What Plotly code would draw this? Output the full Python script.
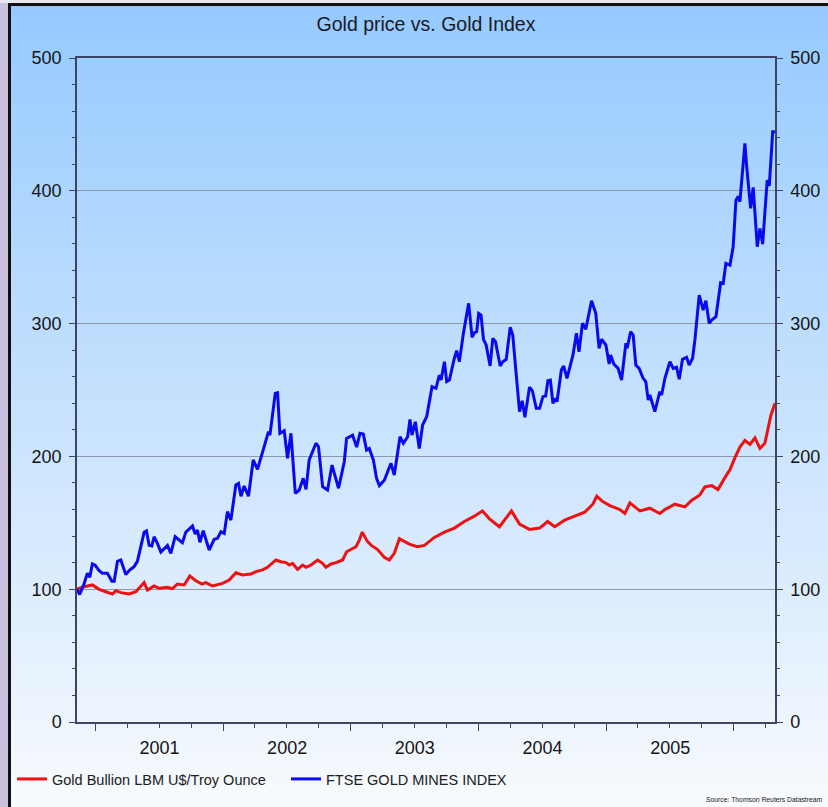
import plotly.graph_objects as go
import pandas as pd
import zlib
import struct
import base64

# ---------------- data ----------------
# time is given in decimal years
ftse_t = [2000.853, 2000.874, 2000.908, 2000.934, 2000.953, 2000.973, 2000.995, 2001.026, 2001.052, 2001.091,
          2001.126, 2001.144, 2001.170, 2001.196, 2001.235, 2001.261, 2001.300, 2001.326, 2001.379, 2001.397,
          2001.418, 2001.439, 2001.457, 2001.483, 2001.510, 2001.562, 2001.588, 2001.622, 2001.679, 2001.706,
          2001.758, 2001.779, 2001.797, 2001.816, 2001.842, 2001.889, 2001.928, 2001.954, 2001.981, 2002.007,
          2002.032, 2002.059, 2002.098, 2002.119, 2002.138, 2002.163, 2002.197, 2002.234, 2002.268, 2002.320,
          2002.354, 2002.365, 2002.407, 2002.425, 2002.443, 2002.477, 2002.503, 2002.530, 2002.564, 2002.595,
          2002.626, 2002.648, 2002.673, 2002.726, 2002.746, 2002.778, 2002.817, 2002.852, 2002.903, 2002.948,
          2002.966, 2003.013, 2003.045, 2003.071, 2003.097, 2003.123, 2003.144, 2003.176, 2003.201, 2003.223,
          2003.262, 2003.314, 2003.340, 2003.385, 2003.411, 2003.445, 2003.463, 2003.479, 2003.505, 2003.536,
          2003.562, 2003.594, 2003.636, 2003.667, 2003.693, 2003.707, 2003.733, 2003.751, 2003.772, 2003.811,
          2003.829, 2003.850, 2003.882, 2003.923, 2003.950, 2003.968, 2003.986, 2004.002, 2004.020, 2004.039,
          2004.060, 2004.091, 2004.112, 2004.133, 2004.170, 2004.190, 2004.217, 2004.248, 2004.268, 2004.321,
          2004.342, 2004.363, 2004.399, 2004.421, 2004.452, 2004.478, 2004.504, 2004.525, 2004.543, 2004.562,
          2004.582, 2004.603, 2004.614, 2004.648, 2004.666, 2004.692, 2004.739, 2004.766, 2004.786, 2004.813,
          2004.839, 2004.884, 2004.917, 2004.943, 2004.962, 2004.996, 2005.022, 2005.033, 2005.058, 2005.092,
          2005.119, 2005.153, 2005.163, 2005.190, 2005.210, 2005.231, 2005.257, 2005.288, 2005.309, 2005.328,
          2005.341, 2005.380, 2005.419, 2005.433, 2005.459, 2005.498, 2005.524, 2005.550, 2005.571, 2005.597,
          2005.629, 2005.649, 2005.676, 2005.694, 2005.728, 2005.759, 2005.780, 2005.806, 2005.825, 2005.859,
          2005.896, 2005.916, 2005.937, 2005.969, 2005.994, 2006.016, 2006.034, 2006.047, 2006.086, 2006.100,
          2006.131, 2006.151, 2006.183, 2006.204, 2006.225, 2006.261, 2006.277, 2006.304, 2006.322]
ftse_v = [100, 96, 104, 112, 109, 119, 118, 114, 112, 112,
          106, 106, 121, 122, 111, 114, 117, 121, 143, 144,
          133, 132.5, 139.5, 134.5, 128, 133, 127, 139.5, 135, 143,
          147.6, 141.6, 144.6, 135.3, 144, 129.5, 137.6, 138.3, 143.3, 142,
          158.4, 152, 178.5, 179.7, 170, 177.7, 170, 197.3, 190.3, 208.6,
          218.6, 216, 247.5, 248, 217.4, 219.4, 198.6, 217.4, 172.2, 174.7,
          183.5, 175.2, 197.3, 209.9, 207.3, 177.2, 174.7, 193.5, 176, 196,
          213.6, 216, 207, 217.4, 216.9, 204.8, 206, 197.3, 183.5, 178,
          182, 194.8, 186, 214.8, 209.9, 214.8, 227.9, 216, 226.1, 206,
          223.6, 229.9, 252.5, 251.3, 261.3, 257.5, 271.3, 256.3, 257.5, 273.9,
          279.6, 271.3, 292.7, 315.3, 289.7, 293.1, 293.9, 307.7, 306.5, 288.2,
          283.9, 268.1, 288.9, 286.4, 268.1, 271.3, 273.1, 297.2, 291.4, 233.7,
          241.9, 229.4, 252, 249.5, 236.2, 236.2, 245, 245.5, 257, 257.5,
          240, 243.7, 241.2, 265, 268.1, 258.8, 276.4, 292.7, 278.8, 300.2,
          295.7, 317.2, 307.7, 281.4, 288.2, 283.9, 269.6, 276.4, 269.6, 266.3,
          257.5, 285.2, 281.4, 293.9, 291.4, 268.8, 266.3, 258.8, 256.3, 242.5,
          246.2, 233.7, 248.7, 246.2, 258.8, 271.3, 266.3, 267.1, 258.1, 273.1,
          274.6, 268.8, 273.9, 287.7, 321.5, 310.2, 317.2, 300.2, 302.7, 305.2,
          330.8, 330.3, 345.4, 344.1, 357.9, 393, 395.8, 391.8, 435.8, 418.2,
          386.8, 402.6, 357.9, 371.7, 359.9, 408.1, 403.6, 444.5, 444.5]

gold_t = [2000.853, 2000.908, 2000.973, 2001.026, 2001.078, 2001.130, 2001.157, 2001.196, 2001.261, 2001.314,
          2001.379, 2001.405, 2001.457, 2001.497, 2001.562, 2001.601, 2001.640, 2001.693, 2001.737, 2001.785,
          2001.832, 2001.863, 2001.915, 2001.993, 2002.046, 2002.098, 2002.150, 2002.216, 2002.255, 2002.307,
          2002.346, 2002.412, 2002.451, 2002.491, 2002.517, 2002.542, 2002.582, 2002.621, 2002.648, 2002.687,
          2002.739, 2002.778, 2002.804, 2002.844, 2002.883, 2002.935, 2002.966, 2003.000, 2003.040, 2003.066,
          2003.089, 2003.129, 2003.160, 2003.207, 2003.262, 2003.301, 2003.340, 2003.380, 2003.419, 2003.458,
          2003.521, 2003.576, 2003.654, 2003.733, 2003.811, 2003.889, 2003.968, 2004.031, 2004.086, 2004.164,
          2004.227, 2004.258, 2004.321, 2004.399, 2004.478, 2004.541, 2004.596, 2004.674, 2004.752, 2004.831,
          2004.894, 2004.925, 2004.972, 2005.027, 2005.106, 2005.145, 2005.184, 2005.263, 2005.341, 2005.419,
          2005.459, 2005.537, 2005.616, 2005.670, 2005.733, 2005.772, 2005.827, 2005.875, 2005.929, 2005.969,
          2006.008, 2006.047, 2006.086, 2006.126, 2006.165, 2006.204, 2006.243, 2006.267, 2006.290, 2006.322]
gold_v = [100, 101.9, 103.2, 99.9, 98.1, 96.4, 98.9, 97.4, 96.4, 98.1,
          105, 99.4, 102.4, 100.7, 101.4, 100.4, 103.9, 103.2, 109.9, 106.4,
          103.9, 104.9, 102.4, 104.4, 106.9, 112.4, 110.7, 111.4, 113.2, 114.5,
          116.5, 122, 120.7, 120, 118.2, 119.5, 115, 118.2, 116.5, 118.2,
          122, 119.5, 116.5, 119, 120, 122, 128.2, 130, 132, 137,
          143, 136, 133, 130, 124, 122, 127, 138, 136, 134,
          132, 133, 139, 143, 146, 151, 155, 159, 153, 147,
          155, 159, 149, 145, 146, 151, 147, 152, 155, 158,
          164, 170, 166, 163, 160, 157, 165, 159, 161, 157,
          160, 164, 162, 167, 171, 177, 178, 175, 184, 190,
          199, 207, 212, 209, 214, 206, 210, 220, 231, 240]

series_names = ["Gold Bullion LBM U$/Troy Ounce", "FTSE GOLD MINES INDEX"]
year_ticks = ["2001-01-01", "2002-01-01", "2003-01-01", "2004-01-01", "2005-01-01", "2006-01-01"]
x_range = [2000.853, 2006.322]
y_range = [0, 500]


def to_date(y):
    yi = int(y)
    start = pd.Timestamp(yi, 1, 1)
    ndays = (pd.Timestamp(yi + 1, 1, 1) - start).days
    return start + pd.Timedelta(days=(y - yi) * ndays)


gold_x = [to_date(v) for v in gold_t]
ftse_x = [to_date(v) for v in ftse_t]
xr = [to_date(v) for v in x_range]

# ---------------- figure ----------------
W, H = 828, 807
L, R, T, B = 77, 53, 58, 85
pw, ph = W - L - R, H - T - B


def px(x):
    return (x - L) / pw


def py(y):
    return (H - B - y) / ph


def gradient_png(h, top, bot):
    rows = b""
    for i in range(h):
        f = i / (h - 1)
        c = bytes(int(round(top[k] + (bot[k] - top[k]) * f)) for k in range(3))
        rows += b"\x00" + c
    def chunk(tag, data):
        return struct.pack(">I", len(data)) + tag + data + struct.pack(">I", zlib.crc32(tag + data) & 0xffffffff)
    png = b"\x89PNG\r\n\x1a\n" + chunk(b"IHDR", struct.pack(">IIBBBBB", 1, h, 8, 2, 0, 0, 0)) \
        + chunk(b"IDAT", zlib.compress(rows)) + chunk(b"IEND", b"")
    return "data:image/png;base64," + base64.b64encode(png).decode()


fig = go.Figure()
fig.add_trace(go.Scatter(x=gold_x, y=gold_v, name=series_names[0], mode="lines",
                         line=dict(color="#ee1111", width=3), yaxis="y"))
fig.add_trace(go.Scatter(x=ftse_x, y=ftse_v, name=series_names[1], mode="lines",
                         line=dict(color="#0a0aee", width=3), yaxis="y2"))


def rect(x0, y0, x1, y1, color):
    return dict(type="rect", xref="paper", yref="paper", x0=px(x0), x1=px(x1), y0=py(y1), y1=py(y0),
                fillcolor=color, line=dict(width=0), layer="below")


shapes = [
    rect(0, 0, 8, H, "#c9c1dd"),     # lavender strip on the left
    rect(0, 0, W, 3, "#e8e8ee"),     # light strip at the top
    rect(8, 3, 11, H, "#111111"),    # black frame, left
    rect(8, 3, W, 6, "#111111"),     # black frame, top
]

grad_top, grad_bot = 6, H
images = [dict(source=gradient_png(200, (150, 202, 255), (248, 250, 253)),
               xref="paper", yref="paper", x=px(11), y=py(grad_top),
               sizex=px(W) - px(11), sizey=py(grad_top) - py(grad_bot),
               xanchor="left", yanchor="top", sizing="stretch", layer="below")]

axis_col = "#3a4662"
sans = "Liberation Sans, Arial, sans-serif"
tick_font = dict(family=sans, size=18, color="#151515")

fig.update_layout(
    width=W, height=H,
    margin=dict(l=L, r=R, t=T, b=B, autoexpand=False),
    paper_bgcolor="#dfeaf7",
    plot_bgcolor="rgba(0,0,0,0)",
    shapes=shapes,
    images=images,
    title=dict(text="Gold price vs. Gold Index", x=0.5, xref="paper", xanchor="center",
               y=1 - 24 / H, yanchor="middle",
               font=dict(family=sans, size=19.5, color="#1a1a24")),
    xaxis=dict(type="date", range=xr, tickmode="linear", tick0=year_ticks[0], dtick="M12",
               ticklabelmode="period", tickformat="%Y", ticks="outside", ticklen=7, tickwidth=1,
               tickcolor=axis_col, showline=True, linecolor=axis_col, linewidth=1.5, mirror=True,
               showgrid=False, zeroline=False, tickfont=tick_font, ticklabelstandoff=2,
               minor=dict(dtick="M3", tick0=year_ticks[0], ticks="outside", ticklen=4,
                          tickcolor=axis_col, showgrid=False)),
    yaxis=dict(range=y_range, tickmode="linear", tick0=0, dtick=100, ticks="outside", ticklen=6,
               tickcolor=axis_col, showline=True, linecolor=axis_col, linewidth=1.5,
               showgrid=True, gridcolor="#8e98a8", gridwidth=1, zeroline=False, tickfont=tick_font,
               ticklabelstandoff=4,
               minor=dict(dtick=20, ticks="outside", ticklen=3, tickcolor=axis_col, showgrid=False)),
    yaxis2=dict(range=y_range, overlaying="y", side="right", tickmode="linear", tick0=0, dtick=100,
                ticks="outside", ticklen=6, tickcolor=axis_col, showline=True, linecolor=axis_col,
                linewidth=1.5, showgrid=False, zeroline=False, tickfont=tick_font, ticklabelstandoff=4,
                minor=dict(dtick=20, ticks="outside", ticklen=3, tickcolor=axis_col, showgrid=False)),
    legend=dict(orientation="h", x=px(12), xanchor="left", y=py(779), yanchor="middle",
                bgcolor="rgba(0,0,0,0)", borderwidth=0, entrywidth=229, entrywidthmode="pixels",
                font=dict(family=sans, size=14.5, color="#202020")),
    showlegend=True,
    annotations=[dict(text="Source: Thomson Reuters Datastream", xref="paper", yref="paper",
                      x=px(704), y=py(800), xanchor="left", yanchor="middle", showarrow=False,
                      font=dict(family=sans, size=6.8, color="#202020"))],
)

fig.write_html("out.html", config={"displayModeBar": False},
               post_script="document.body.style.margin='0px';document.body.style.overflow='hidden';")
